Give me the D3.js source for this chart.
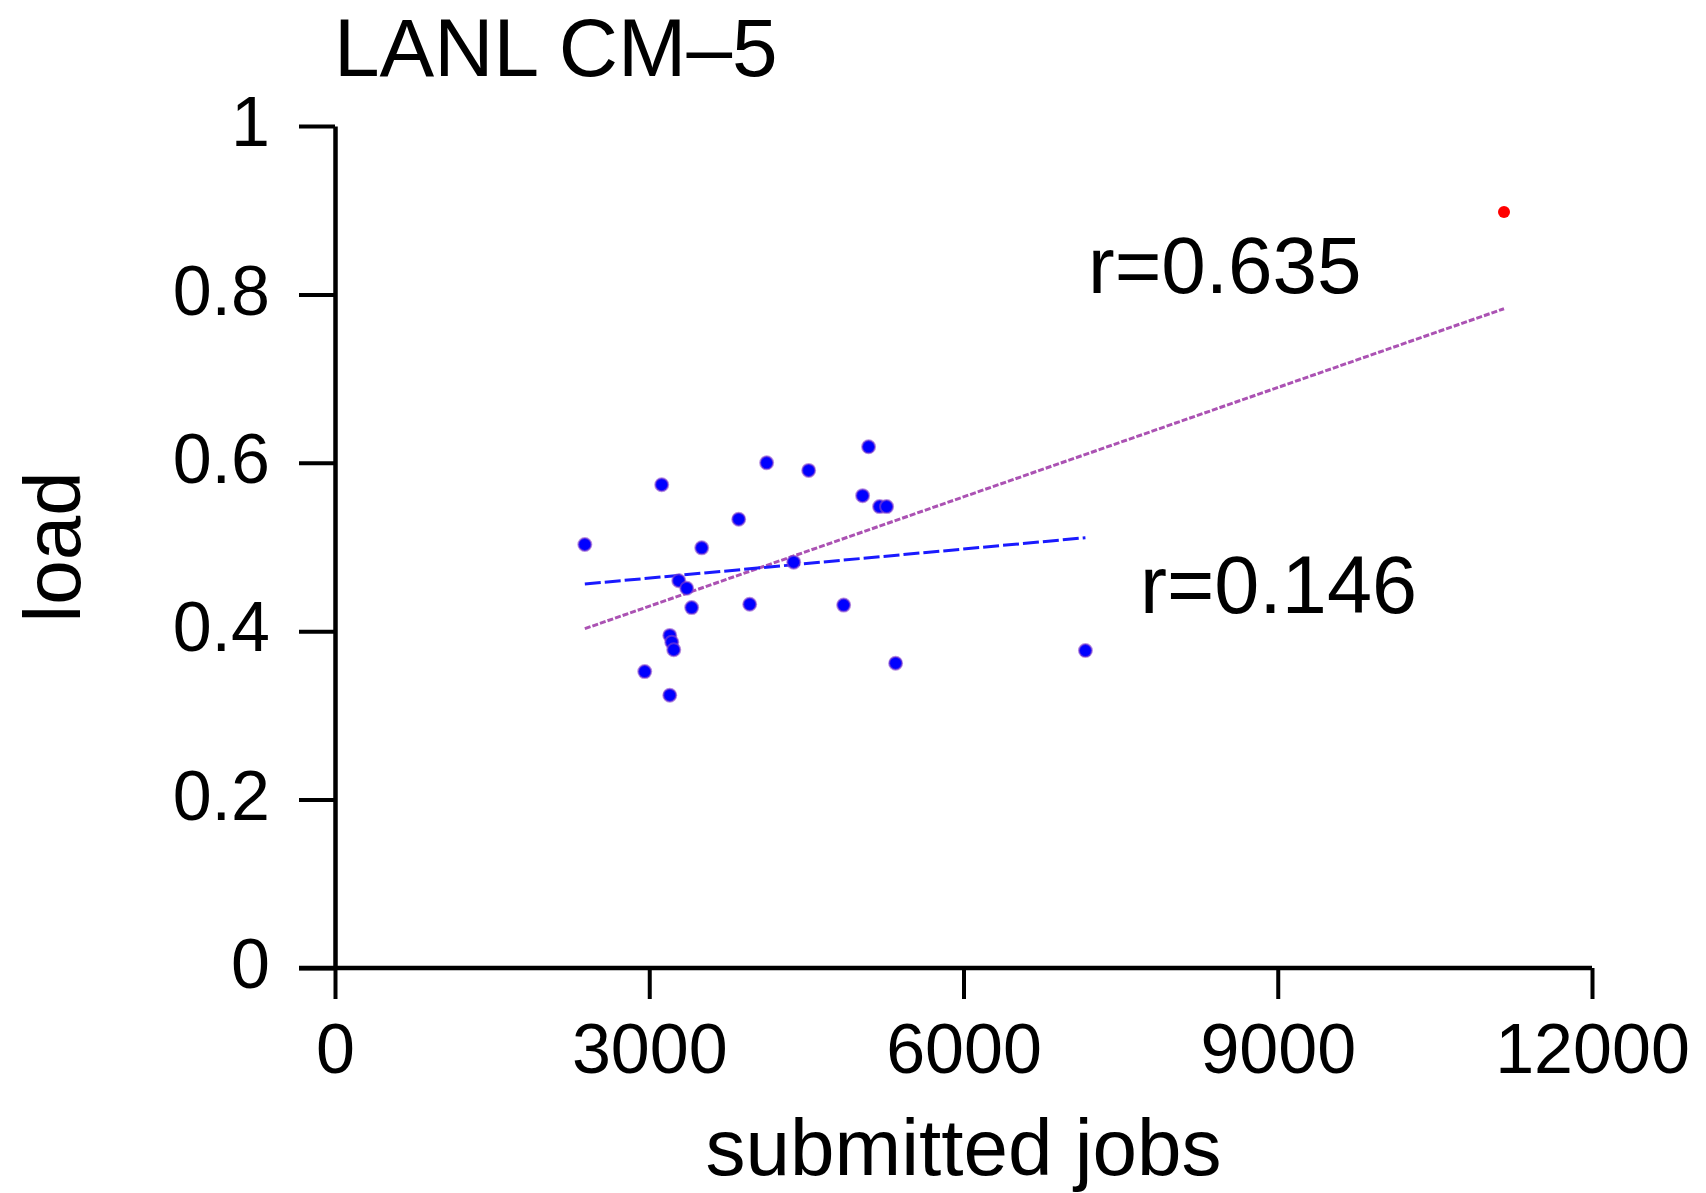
<!DOCTYPE html>
<html>
<head>
<meta charset="utf-8">
<script src="https://cdn.jsdelivr.net/npm/d3@7"></script>
<style>
    body { margin: 0; background: #fff; }
    text { font-family: "Liberation Sans", Arial, Helvetica, sans-serif; fill: #000; }
</style>
</head>
<body>
<svg id="chart" width="1706" height="1193"></svg>
<script>
// submitted jobs / load, one point per month
const jobs = [2385, 3119, 2957, 3196, 3215, 3234, 3196, 3282, 3358, 3405, 3501, 3854,
              3959, 4121, 4379, 4522, 4856, 5037, 5094, 5199, 5266, 5352, 7164];
const load = [0.503, 0.574, 0.352, 0.395, 0.387, 0.378, 0.324, 0.460, 0.451, 0.428, 0.499, 0.533,
              0.432, 0.600, 0.482, 0.591, 0.431, 0.561, 0.619, 0.548, 0.548, 0.362, 0.377];
const outlierJobs = [11160];
const outlierLoad = [0.898];

// fitted lines, endpoints
const fitAllJobs = [2385, 11160];
const fitAllLoad = [0.403, 0.783];
const fitMainJobs = [2385, 7164];
const fitMainLoad = [0.456, 0.511];

const xTicks = [0, 3000, 6000, 9000, 12000];
const yTicks = [0, 0.2, 0.4, 0.6, 0.8, 1];

const svg = d3.select("#chart");

const x = d3.scaleLinear().domain([0, 12000]).range([335, 1592]);
const y = d3.scaleLinear().domain([0, 1]).range([968, 126]);

const tickFmt = d => String(d);

// axes
const xAxis = svg.append("g")
    .attr("transform", `translate(0, ${ y(0) })`)
    .call(d3.axisBottom(x).tickValues(xTicks).tickSize(31).tickSizeOuter(0).tickPadding(24).tickFormat(tickFmt));

const yAxis = svg.append("g")
    .attr("transform", `translate(${ x(0) }, 0)`)
    .call(d3.axisLeft(y).tickValues(yTicks).tickSize(36).tickSizeOuter(0).tickPadding(29).tickFormat(tickFmt));

[xAxis, yAxis].forEach(g => {
    g.select(".domain").attr("stroke", "#000").attr("stroke-width", 4.5);
    g.selectAll(".tick line").attr("stroke", "#000").attr("stroke-width", 4);
    g.selectAll(".tick text")
        .attr("font-size", 70)
        .attr("fill", "#000");
});
xAxis.select(".domain").attr("d", `M${ x(0) - 36 },0H${ x(12000) }`);
xAxis.selectAll(".tick text").attr("dy", "0.71em");
yAxis.selectAll(".tick text").attr("dy", "0.28em");

// fit lines
const line = d3.line().x(d => x(d[0])).y(d => y(d[1]));

svg.append("path")
    .datum(d3.zip(fitAllJobs, fitAllLoad))
    .attr("d", line)
    .attr("fill", "none")
    .attr("stroke", "#ab52b3")
    .attr("stroke-width", 3)
    .attr("stroke-dasharray", "6,2");

svg.append("path")
    .datum(d3.zip(fitMainJobs, fitMainLoad))
    .attr("d", line)
    .attr("fill", "none")
    .attr("stroke", "#1a1aff")
    .attr("stroke-width", 3)
    .attr("stroke-dasharray", "16,4");

// points
svg.append("g")
    .selectAll("circle")
    .data(d3.zip(jobs, load))
    .join("circle")
    .attr("cx", d => x(d[0]))
    .attr("cy", d => y(d[1]))
    .attr("r", 6.5)
    .attr("fill", "#0000ff")
    .attr("stroke", "#8844cc")
    .attr("stroke-opacity", 0.6)
    .attr("stroke-width", 2);

svg.append("g")
    .selectAll("circle")
    .data(d3.zip(outlierJobs, outlierLoad))
    .join("circle")
    .attr("cx", d => x(d[0]))
    .attr("cy", d => y(d[1]))
    .attr("r", 6)
    .attr("fill", "#ff0000");

// labels
svg.append("text")
    .attr("x", 334)
    .attr("y", 76)
    .attr("font-size", 82)
    .text("LANL CM\u20135");

svg.append("text")
    .attr("x", 1088)
    .attr("y", 293)
    .attr("font-size", 80)
    .text("r=0.635");

svg.append("text")
    .attr("x", 1140)
    .attr("y", 613)
    .attr("font-size", 81)
    .text("r=0.146");

svg.append("text")
    .attr("x", (x(0) + x(12000)) / 2)
    .attr("y", 1175)
    .attr("text-anchor", "middle")
    .attr("font-size", 80)
    .text("submitted jobs");

svg.append("text")
    .attr("transform", `translate(80, ${ (y(0) + y(1)) / 2 }) rotate(-90)`)
    .attr("text-anchor", "middle")
    .attr("font-size", 80)
    .text("load");
</script>
</body>
</html>
